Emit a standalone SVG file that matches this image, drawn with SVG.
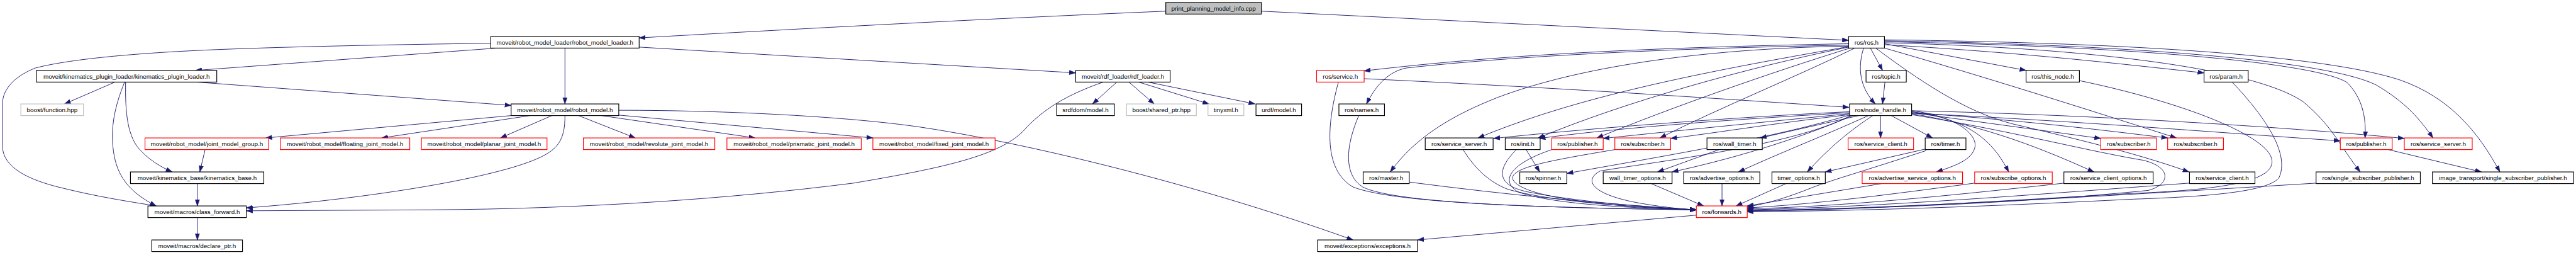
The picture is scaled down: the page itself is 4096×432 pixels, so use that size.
<svg xmlns="http://www.w3.org/2000/svg" width="4096" height="432" viewBox="0 0 4096 432">
<style>
.nd rect{fill:#ffffff;stroke:#000000;stroke-width:1.5}
.nd.red rect{stroke:#ff0000}
.nd.grey rect{stroke:#bfbfbf}
.nd.root rect{fill:#bfbfbf}
.nd text{font-family:"Liberation Sans",Arial,sans-serif;font-size:12.8px;text-anchor:middle;fill:#000000}
#edges path{fill:none;stroke:#191970;stroke-width:1.2;marker-end:url(#arrow)}
</style>
<defs>
<marker id="arrow" markerUnits="userSpaceOnUse" markerWidth="13" markerHeight="10" viewBox="0 0 13 10" refX="13" refY="5" orient="auto">
<path d="M0,0.5 L13,5 L0,9.5 z" fill="#191970" stroke="#191970" stroke-width="0.8"/>
</marker>
</defs>
<rect width="4096" height="432" fill="#ffffff"/>
<g transform="scale(0.77108,0.77143)">
<g id="edges">
<path d="M2404,23 C2000,40 1600,62 1318,78"/>
<path d="M2601,23 L3812,83"/>
<path d="M1012,89 C800,92 600,96 450,102 C300,108 150,120 73,140 C35,155 5,180 5,215 L5,300 C5,345 60,370 120,385 C200,405 260,414 322,424"/>
<path d="M1025,99 L403,145"/>
<path d="M1165,99 L1165,214"/>
<path d="M1318,97 L2218,150"/>
<path d="M237,169 L133,214"/>
<path d="M257,169 C240,210 230,250 232,290 C235,350 255,390 322,424"/>
<path d="M259,169 C258,230 262,285 293,313 C310,330 330,343 355,354"/>
<path d="M405,169 L1054,217"/>
<path d="M1054,238 L548,284"/>
<path d="M1093,238 L787,284"/>
<path d="M1138,238 L1032,284"/>
<path d="M1165,238 C1165,290 1150,310 1100,330 C1000,370 750,410 508,428"/>
<path d="M1193,238 L1310,284"/>
<path d="M1240,238 L1557,284"/>
<path d="M1276,237 L1800,284"/>
<path d="M1276,227 C1500,227 1750,240 1900,262 C2150,300 2500,390 2790,494"/>
<path d="M423,308 L412,354"/>
<path d="M407,378 L407,424"/>
<path d="M407,448 L407,494"/>
<path d="M2275,169 C2200,195 2150,225 2110,270 C2060,320 1950,345 1760,377 C1500,410 1200,430 890,432 L508,434"/>
<path d="M2303,169 L2253,214"/>
<path d="M2328,169 L2380,214"/>
<path d="M2348,169 L2493,214"/>
<path d="M2367,169 L2588,214"/>
<path d="M3812,90 C3400,98 3100,112 2813,146"/>
<path d="M3812,93 C3400,100 3100,118 2900,140 C2860,148 2835,180 2818,214"/>
<path d="M3812,95 C3500,100 3250,140 3090,200 C3000,235 2920,280 2867,354"/>
<path d="M3812,96 C3500,150 3250,200 3048,284"/>
<path d="M3812,97 C3600,140 3350,210 3172,284"/>
<path d="M3815,99 C3650,150 3450,220 3293,284"/>
<path d="M3825,99 C3700,160 3550,220 3423,284"/>
<path d="M3843,99 C3830,140 3835,180 3867,214"/>
<path d="M3857,99 L3882,145"/>
<path d="M3887,169 L3882,214"/>
<path d="M3886,90 L4178,145"/>
<path d="M3886,92 C4200,110 4400,135 4545,150"/>
<path d="M3886,99 C4100,160 4350,240 4488,284"/>
<path d="M3868,99 C3950,160 4050,230 4150,255 C4300,290 4420,320 4514,354"/>
<path d="M3886,88 C4300,98 4650,140 4750,210 C4810,260 4825,300 4867,354"/>
<path d="M3886,86 C4400,95 4780,130 4840,170 C4870,200 4880,240 4877,284"/>
<path d="M3886,84 C4400,92 4800,125 4900,175 C4960,210 4990,245 5017,284"/>
<path d="M3886,82 C4400,88 4800,115 4950,165 C5050,200 5110,270 5155,354"/>
<path d="M2813,162 C3200,180 3500,200 3813,221"/>
<path d="M3814,230 C3600,240 3300,262 3080,285"/>
<path d="M3814,232 C3500,250 3300,268 3174,285"/>
<path d="M3814,234 C3600,255 3450,270 3306,285"/>
<path d="M3814,236 C3650,255 3550,272 3445,285"/>
<path d="M3833,238 L3630,284"/>
<path d="M3878,238 L3878,284"/>
<path d="M3900,238 L3985,284"/>
<path d="M3853,238 C3760,280 3670,315 3585,354"/>
<path d="M3862,238 C3820,265 3770,305 3727,354"/>
<path d="M3942,228 C4040,240 4080,280 4072,305 C4065,330 4030,342 3993,354"/>
<path d="M3942,230 C4060,245 4110,290 4142,354"/>
<path d="M3942,234 C4100,260 4220,310 4318,354"/>
<path d="M3942,232 L4332,285"/>
<path d="M3942,232 C4200,250 4350,270 4470,284"/>
<path d="M3942,233 C4300,250 4600,275 4826,290"/>
<path d="M3942,228 C4300,236 4700,260 4958,285"/>
<path d="M3820,238 C3700,290 3560,330 3448,354"/>
<path d="M3814,237 C3650,285 3450,318 3231,357"/>
<path d="M3816,238 C3700,300 3400,335 3300,352 C3265,370 3280,400 3380,418 C3420,425 3460,430 3498,432"/>
<path d="M3942,236 C4150,270 4300,310 4420,330 C4480,345 4475,380 4430,392 C4200,415 3900,430 3603,433"/>
<path d="M3147,308 L3175,354"/>
<path d="M3545,308 L3418,354"/>
<path d="M3970,307 L3764,354"/>
<path d="M4925,308 L5117,354"/>
<path d="M2760,169 C2735,260 2730,350 2790,385 C2880,420 3200,428 3498,432"/>
<path d="M2802,238 C2775,300 2770,360 2810,385 C2880,420 3200,428 3498,432"/>
<path d="M2907,375 C3100,400 3300,420 3498,432"/>
<path d="M3017,308 C3040,345 3070,375 3110,390 C3200,415 3350,425 3498,432"/>
<path d="M3127,308 C3090,345 3080,380 3150,395 C3250,415 3380,425 3498,432"/>
<path d="M3200,308 C3120,335 3090,370 3130,395 C3200,420 3350,428 3498,432"/>
<path d="M3330,308 C3200,330 3110,345 3120,370 C3140,410 3350,428 3498,432"/>
<path d="M3405,378 L3513,424"/>
<path d="M3551,378 L3551,424"/>
<path d="M3683,378 L3580,424"/>
<path d="M3972,310 C3850,350 3780,370 3740,385 C3690,405 3650,418 3603,426"/>
<path d="M3880,378 L3603,424"/>
<path d="M4072,377 C3900,400 3750,420 3603,428"/>
<path d="M4257,377 C4000,405 3800,425 3603,430"/>
<path d="M4515,377 C4200,400 3900,425 3603,432"/>
<path d="M4777,377 C4400,400 3950,428 3603,434"/>
<path d="M4288,166 C4500,210 4680,280 4685,330 C4690,370 4600,390 4400,398 C4100,415 3850,432 3603,435"/>
<path d="M4603,169 C4680,250 4720,320 4700,365 C4680,395 4550,405 4400,410 C4100,425 3850,434 3603,436"/>
<path d="M3498,443 L2923,494"/>
</g>
<g id="n_root" class="nd root"><rect x="2404" y="5" width="197" height="24"/><text x="2502.5" y="21.5">print_planning_model_info.cpp</text></g>
<g id="n_rml" class="nd"><rect x="1012" y="75" width="306" height="24"/><text x="1165" y="91.5">moveit/robot_model_loader/robot_model_loader.h</text></g>
<g id="n_ros" class="nd"><rect x="3812" y="75" width="74" height="24"/><text x="3849" y="91.5">ros/ros.h</text></g>
<g id="n_kpl" class="nd"><rect x="75" y="145" width="372" height="24"/><text x="261" y="161.5">moveit/kinematics_plugin_loader/kinematics_plugin_loader.h</text></g>
<g id="n_rdf" class="nd"><rect x="2218" y="145" width="195" height="24"/><text x="2315.5" y="161.5">moveit/rdf_loader/rdf_loader.h</text></g>
<g id="n_service" class="nd red"><rect x="2715" y="145" width="98" height="24"/><text x="2764" y="161.5">ros/service.h</text></g>
<g id="n_topic" class="nd"><rect x="3848" y="145" width="83" height="24"/><text x="3889.5" y="161.5">ros/topic.h</text></g>
<g id="n_this_node" class="nd"><rect x="4178" y="145" width="110" height="24"/><text x="4233" y="161.5">ros/this_node.h</text></g>
<g id="n_param" class="nd"><rect x="4545" y="145" width="91" height="24"/><text x="4590.5" y="161.5">ros/param.h</text></g>
<g id="n_boost_function" class="nd grey"><rect x="43" y="214" width="129" height="24"/><text x="107.5" y="230.5">boost/function.hpp</text></g>
<g id="n_robot_model" class="nd"><rect x="1054" y="214" width="222" height="24"/><text x="1165" y="230.5">moveit/robot_model/robot_model.h</text></g>
<g id="n_srdfdom" class="nd"><rect x="2179" y="214" width="119" height="24"/><text x="2238.5" y="230.5">srdfdom/model.h</text></g>
<g id="n_shared_ptr" class="nd grey"><rect x="2323" y="214" width="144" height="24"/><text x="2395" y="230.5">boost/shared_ptr.hpp</text></g>
<g id="n_tinyxml" class="nd grey"><rect x="2491" y="214" width="74" height="24"/><text x="2528" y="230.5">tinyxml.h</text></g>
<g id="n_urdf" class="nd"><rect x="2590" y="214" width="94" height="24"/><text x="2637" y="230.5">urdf/model.h</text></g>
<g id="n_names" class="nd"><rect x="2761" y="214" width="94" height="24"/><text x="2808" y="230.5">ros/names.h</text></g>
<g id="n_node_handle" class="nd"><rect x="3814" y="214" width="128" height="24"/><text x="3878" y="230.5">ros/node_handle.h</text></g>
<g id="n_jmg" class="nd red"><rect x="299" y="284" width="255" height="24"/><text x="426.5" y="300.5">moveit/robot_model/joint_model_group.h</text></g>
<g id="n_floating" class="nd red"><rect x="578" y="284" width="267" height="24"/><text x="711.5" y="300.5">moveit/robot_model/floating_joint_model.h</text></g>
<g id="n_planar" class="nd red"><rect x="869" y="284" width="259" height="24"/><text x="998.5" y="300.5">moveit/robot_model/planar_joint_model.h</text></g>
<g id="n_revolute" class="nd red"><rect x="1203" y="284" width="271" height="24"/><text x="1338.5" y="300.5">moveit/robot_model/revolute_joint_model.h</text></g>
<g id="n_prismatic" class="nd red"><rect x="1499" y="284" width="277" height="24"/><text x="1637.5" y="300.5">moveit/robot_model/prismatic_joint_model.h</text></g>
<g id="n_fixed" class="nd red"><rect x="1800" y="284" width="252" height="24"/><text x="1926" y="300.5">moveit/robot_model/fixed_joint_model.h</text></g>
<g id="n_service_server_a" class="nd"><rect x="2939" y="284" width="140" height="24"/><text x="3009" y="300.5">ros/service_server.h</text></g>
<g id="n_init" class="nd"><rect x="3104" y="284" width="72" height="24"/><text x="3140" y="300.5">ros/init.h</text></g>
<g id="n_publisher_a" class="nd red"><rect x="3200" y="284" width="106" height="24"/><text x="3253" y="300.5">ros/publisher.h</text></g>
<g id="n_subscriber_a" class="nd red"><rect x="3330" y="284" width="115" height="24"/><text x="3387.5" y="300.5">ros/subscriber.h</text></g>
<g id="n_wall_timer" class="nd"><rect x="3520" y="284" width="114" height="24"/><text x="3577" y="300.5">ros/wall_timer.h</text></g>
<g id="n_service_client_a" class="nd red"><rect x="3811" y="284" width="135" height="24"/><text x="3878.5" y="300.5">ros/service_client.h</text></g>
<g id="n_timer" class="nd"><rect x="3970" y="284" width="84" height="24"/><text x="4012" y="300.5">ros/timer.h</text></g>
<g id="n_subscriber_b" class="nd red"><rect x="4332" y="284" width="115" height="24"/><text x="4389.5" y="300.5">ros/subscriber.h</text></g>
<g id="n_subscriber_c" class="nd red"><rect x="4470" y="284" width="115" height="24"/><text x="4527.5" y="300.5">ros/subscriber.h</text></g>
<g id="n_publisher_b" class="nd red"><rect x="4826" y="284" width="107" height="24"/><text x="4879.5" y="300.5">ros/publisher.h</text></g>
<g id="n_service_server_b" class="nd red"><rect x="4958" y="284" width="140" height="24"/><text x="5028" y="300.5">ros/service_server.h</text></g>
<g id="n_kinematics_base" class="nd"><rect x="269" y="354" width="275" height="24"/><text x="406.5" y="370.5">moveit/kinematics_base/kinematics_base.h</text></g>
<g id="n_master" class="nd"><rect x="2811" y="354" width="95" height="24"/><text x="2858.5" y="370.5">ros/master.h</text></g>
<g id="n_spinner" class="nd"><rect x="3134" y="354" width="97" height="24"/><text x="3182.5" y="370.5">ros/spinner.h</text></g>
<g id="n_wall_timer_options" class="nd"><rect x="3306" y="354" width="142" height="24"/><text x="3377" y="370.5">wall_timer_options.h</text></g>
<g id="n_advertise_options" class="nd"><rect x="3472" y="354" width="157" height="24"/><text x="3550.5" y="370.5">ros/advertise_options.h</text></g>
<g id="n_timer_options" class="nd"><rect x="3654" y="354" width="110" height="24"/><text x="3709" y="370.5">timer_options.h</text></g>
<g id="n_advertise_service_options" class="nd red"><rect x="3840" y="354" width="207" height="24"/><text x="3943.5" y="370.5">ros/advertise_service_options.h</text></g>
<g id="n_subscribe_options" class="nd red"><rect x="4072" y="354" width="160" height="24"/><text x="4152" y="370.5">ros/subscribe_options.h</text></g>
<g id="n_service_client_options" class="nd"><rect x="4256" y="354" width="184" height="24"/><text x="4348" y="370.5">ros/service_client_options.h</text></g>
<g id="n_service_client_b" class="nd"><rect x="4515" y="354" width="135" height="24"/><text x="4582.5" y="370.5">ros/service_client.h</text></g>
<g id="n_single_sub_pub" class="nd"><rect x="4776" y="354" width="215" height="24"/><text x="4883.5" y="370.5">ros/single_subscriber_publisher.h</text></g>
<g id="n_image_transport" class="nd"><rect x="5016" y="354" width="291" height="24"/><text x="5161.5" y="370.5">image_transport/single_subscriber_publisher.h</text></g>
<g id="n_class_forward" class="nd"><rect x="305" y="424" width="203" height="24"/><text x="406.5" y="440.5">moveit/macros/class_forward.h</text></g>
<g id="n_forwards" class="nd red"><rect x="3498" y="424" width="105" height="24"/><text x="3550.5" y="440.5">ros/forwards.h</text></g>
<g id="n_declare_ptr" class="nd"><rect x="313" y="494" width="187" height="24"/><text x="406.5" y="510.5">moveit/macros/declare_ptr.h</text></g>
<g id="n_exceptions" class="nd"><rect x="2717" y="494" width="206" height="24"/><text x="2820" y="510.5">moveit/exceptions/exceptions.h</text></g>
</g>
</svg>
